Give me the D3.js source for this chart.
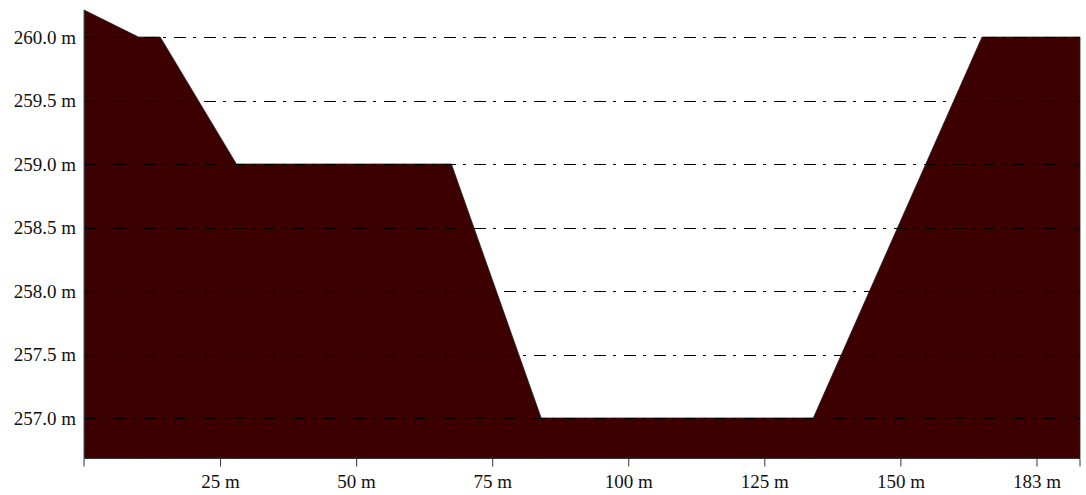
<!DOCTYPE html>
<html>
<head>
<meta charset="utf-8">
<script src="https://cdn.jsdelivr.net/npm/d3@7/dist/d3.min.js"></script>
<style>
  html, body { margin: 0; padding: 0; background: #ffffff; }
  svg { display: block; }
  text { font-family: "Liberation Serif", "Times New Roman", serif; font-size: 19px; fill: #111; }
</style>
</head>
<body>
<svg id="chart" width="1086" height="495"></svg>
<script>
// Cross-section profile: station (m) and ground elevation (m)
const stations   = [0, 10, 14, 28, 67.5, 84, 134, 165, 183];
const elevations = [260.213, 260.0, 260.0, 259.0, 259.0, 257.0, 257.0, 260.0, 260.0];

// Axis ticks and their labels
const xTickValues = [25, 50, 75, 100, 125, 150, 175];
const xTickLabels = ["25 m", "50 m", "75 m", "100 m", "125 m", "150 m", "183 m"];
const yTickValues = [257.0, 257.5, 258.0, 258.5, 259.0, 259.5, 260.0];
const yTickLabels = ["257.0 m", "257.5 m", "258.0 m", "258.5 m", "259.0 m", "259.5 m", "260.0 m"];

const xDomain = [0, 183];
const yDomain = [256.685, 260.213];

const margin = { left: 84, right: 6, top: 10, bottom: 37 };
const W = 1086, H = 495;

const svg = d3.select("#chart");
const x = d3.scaleLinear().domain(xDomain).range([margin.left, W - margin.right]);
const y = d3.scaleLinear().domain(yDomain).range([H - margin.bottom, margin.top]);

const profile = stations.map((s, i) => ({ s, e: elevations[i] }));

// Ground fill
const area = d3.area()
  .x(d => x(d.s))
  .y0(y(yDomain[0]))
  .y1(d => y(d.e));

svg.append("path")
  .datum(profile)
  .attr("d", area)
  .attr("fill", "#3c0000")
  .attr("stroke", "#2a1a1a")
  .attr("stroke-width", 0.8);

// Dash-dot horizontal grid over the fill
svg.append("g")
  .selectAll("line")
  .data(yTickValues)
  .join("line")
  .attr("x1", x(xDomain[0]))
  .attr("x2", x(xDomain[1]))
  .attr("y1", d => Math.round(y(d)) + 0.5)
  .attr("y2", d => Math.round(y(d)) + 0.5)
  .attr("stroke", "#000")
  .attr("stroke-width", 1)
  .attr("stroke-dasharray", "12,7,3,8");

// Bottom axis
const xAxis = d3.axisBottom(x)
  .tickValues(xTickValues)
  .tickFormat((d, i) => xTickLabels[i])
  .tickSize(8)
  .tickPadding(8);

const gx = svg.append("g")
  .attr("transform", `translate(0,${y(yDomain[0]) + 0.5})`)
  .call(xAxis);
gx.select(".domain").attr("stroke", "#333").attr("d", `M${x(xDomain[0])},8V0H${x(xDomain[1])}V8`);
gx.selectAll(".tick line").attr("stroke", "#333");
gx.selectAll(".tick text")
  .attr("font-family", "Liberation Serif, Times New Roman, serif")
  .attr("font-size", 19)
  .attr("fill", "#111");

// Left axis line (no tick marks) with labels
svg.append("line")
  .attr("x1", x(xDomain[0]) + 0.5).attr("x2", x(xDomain[0]) + 0.5)
  .attr("y1", y(yDomain[1])).attr("y2", y(yDomain[0]))
  .attr("stroke", "#333");

svg.append("g")
  .selectAll("text")
  .data(yTickValues)
  .join("text")
  .attr("x", x(xDomain[0]) - 8)
  .attr("y", d => y(d))
  .attr("dy", "0.35em")
  .attr("text-anchor", "end")
  .text((d, i) => yTickLabels[i]);
</script>
</body>
</html>
